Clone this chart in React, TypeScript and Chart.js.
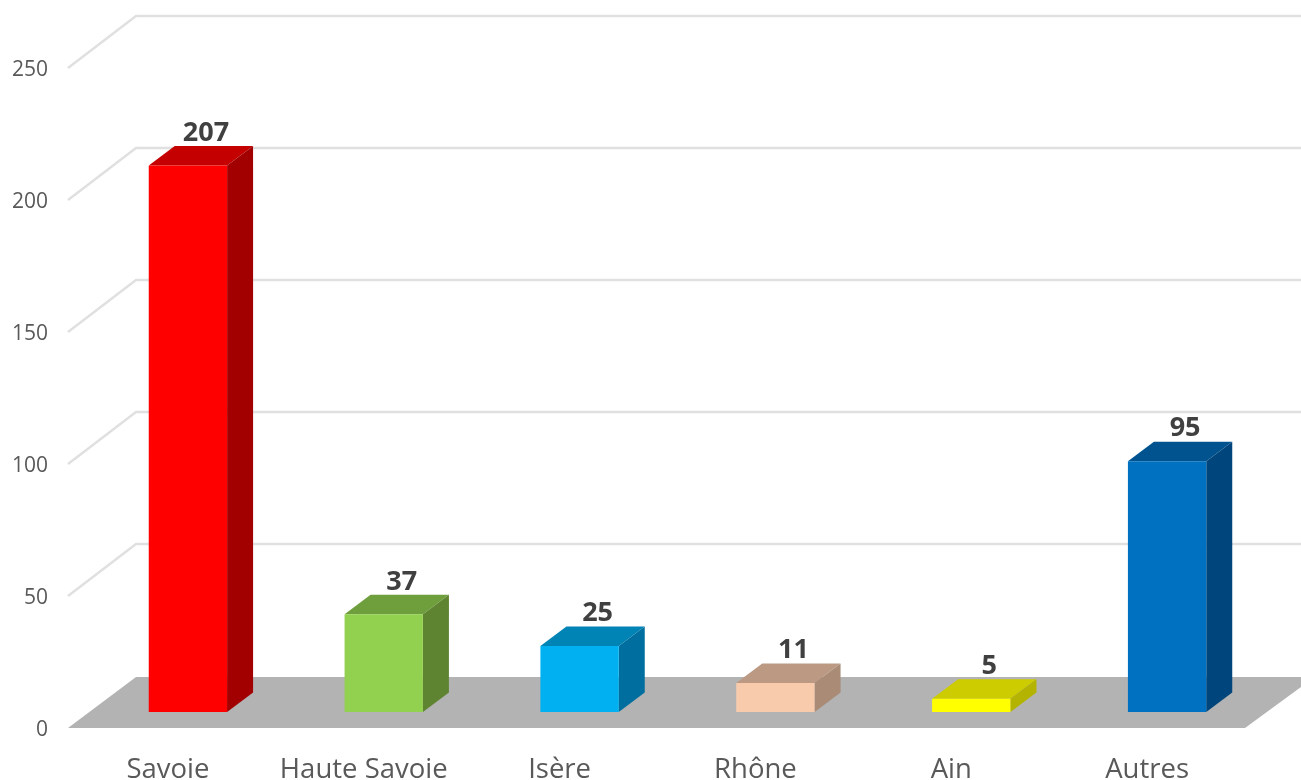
import React, { useEffect, useRef } from "react";
import { Chart, registerables } from "chart.js";

Chart.register(...registerables);

const categories = ["Savoie", "Haute Savoie", "Isère", "Rhône", "Ain", "Autres"];
const values = [207, 37, 25, 11, 5, 95];
const yTicks = [0, 50, 100, 150, 200, 250];
const frontColors = ["#ff0000", "#92d050", "#00b0f0", "#f8cbad", "#ffff00", "#0070c0"];
const topColors = ["#c40000", "#6f9e3c", "#0084b6", "#bb9983", "#cccc00", "#00538f"];
const sideColors = ["#a20000", "#5f8431", "#006f9f", "#a98b76", "#b3b300", "#00467c"];

const FONT = '"Open Sans", sans-serif';
const WALL_DX = 68;
const WALL_DY = -52;
const BAR_DX = 26;
const BAR_DY = -19.5;
const PX_PER_UNIT = 2.64;
const WALL_MIN = -2 / PX_PER_UNIT;
const BARS_MIN = -18 / PX_PER_UNIT;

const scene3d = {
  id: "scene3d",
  beforeDatasetsDraw(chart: any) {
    const { ctx, chartArea, scales } = chart;
    const y = scales.yWall;
    const left = chartArea.left - 22;
    const y0 = y.getPixelForValue(0);
    ctx.save();
    ctx.fillStyle = "#b3b3b3";
    ctx.beginPath();
    ctx.moveTo(left, y0);
    ctx.lineTo(left + WALL_DX, y0 + WALL_DY + 1);
    ctx.lineTo(chart.width, y0 + WALL_DY + 1);
    ctx.lineTo(chart.width, y0 - 41);
    ctx.lineTo(chartArea.right - 20, y0);
    ctx.closePath();
    ctx.fill();
    ctx.strokeStyle = "#e0e0e0";
    ctx.lineWidth = 2.5;
    ctx.lineJoin = "round";
    yTicks.filter((t) => t > 0).forEach((t) => {
      const py = y.getPixelForValue(t);
      ctx.beginPath();
      ctx.moveTo(left, py);
      ctx.lineTo(left + WALL_DX, py + WALL_DY);
      ctx.lineTo(chart.width, py + WALL_DY);
      ctx.stroke();
    });
    chart.getDatasetMeta(0).data.forEach((bar: any, i: number) => {
      const l = bar.x - bar.width / 2;
      const r = bar.x + bar.width / 2;
      const t = bar.y;
      const b = bar.base;
      ctx.fillStyle = topColors[i];
      ctx.beginPath();
      ctx.moveTo(l, t);
      ctx.lineTo(l + BAR_DX, t + BAR_DY);
      ctx.lineTo(r + BAR_DX, t + BAR_DY);
      ctx.lineTo(r, t);
      ctx.closePath();
      ctx.fill();
      ctx.fillStyle = sideColors[i];
      ctx.beginPath();
      ctx.moveTo(r, t);
      ctx.lineTo(r + BAR_DX, t + BAR_DY);
      ctx.lineTo(r + BAR_DX, b + BAR_DY);
      ctx.lineTo(r, b);
      ctx.closePath();
      ctx.fill();
    });
    ctx.restore();
  },
  afterDatasetsDraw(chart: any) {
    const { ctx } = chart;
    ctx.save();
    ctx.font = `bold 27px ${FONT}`;
    ctx.fillStyle = "#404040";
    ctx.textAlign = "center";
    ctx.textBaseline = "middle";
    chart.getDatasetMeta(0).data.forEach((bar: any, i: number) => {
      ctx.fillText(String(values[i]), bar.x + 18, bar.y + BAR_DY - 13);
    });
    ctx.restore();
  },
};

export default function App() {
  const ref = useRef<HTMLCanvasElement>(null);
  useEffect(() => {
    document.body.style.margin = "0";
    const chart = new Chart(ref.current as HTMLCanvasElement, {
      type: "bar",
      data: {
        labels: categories,
        datasets: [
          {
            data: values,
            backgroundColor: frontColors,
            borderWidth: 0,
            yAxisID: "yBars",
            barPercentage: 0.4,
            categoryPercentage: 1,
          },
        ],
      },
      options: {
        responsive: false,
        animation: false,
        devicePixelRatio: 1,
        layout: { padding: { top: 70, right: 36, left: 0, bottom: 0 } },
        plugins: { legend: { display: false }, tooltip: { enabled: false } },
        scales: {
          x: {
            grid: { display: false },
            border: { display: false },
            afterFit: (s: any) => { s.height = 50; },
            ticks: {
              autoSkip: false,
              maxRotation: 0,
              minRotation: 0,
              padding: 16,
              labelOffset: -20,
              color: "#595959",
              font: { family: FONT, size: 27.5 },
            },
          },
          y: {
            min: 0,
            max: 250,
            grid: { display: false },
            border: { display: false },
            afterFit: (s: any) => { s.width = 90; },
            afterBuildTicks: (s: any) => { s.ticks = yTicks.map((value) => ({ value })); },
            ticks: {
              padding: 34,
              color: "#595959",
              font: { family: FONT, size: 21 },
            },
          },
          yWall: { display: false, min: WALL_MIN, max: WALL_MIN + 250 },
          yBars: { display: false, min: BARS_MIN, max: BARS_MIN + 250 },
        },
      },
      plugins: [scene3d],
    } as any);
    return () => chart.destroy();
  }, []);
  return <canvas ref={ref} width={1301} height={780} style={{ display: "block" }} />;
}
